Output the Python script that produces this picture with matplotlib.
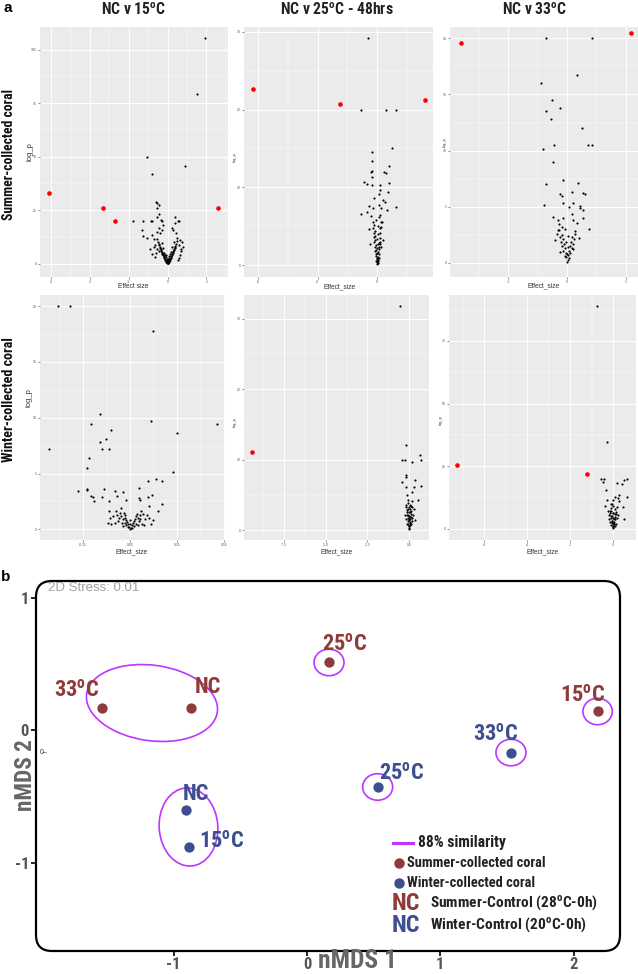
import os
import matplotlib
matplotlib.use("Agg")
import matplotlib.pyplot as plt
import matplotlib.font_manager as fm
from matplotlib.patches import Ellipse, FancyBboxPatch
from matplotlib.lines import Line2D

plt.rcParams["mathtext.default"] = "regular"
plt.rcParams["font.family"] = ["Liberation Sans", "DejaVu Sans"]

# ======================= DATA =======================
# ---- panel a: volcano plots (Effect size, -log p) ----
# Summer-collected coral, NC v 15C
s15_red_x = [-3.06, -1.66, -1.35, 1.30]
s15_red_y = [32.8, 26.1, 20.0, 26.1]
s15_pts = [(0.96, 105.5), (0.77, 79.2), (-0.52, 50.0), (0.46, 45.8), (-0.39, 42.0),
           (-0.90, 20.0), (-0.63, 20.0), (-0.43, 20.0), (-0.39, 20.0),
           (-0.30, 28.9), (-0.26, 28.4), (-0.23, 27.3), (-0.28, 25.8), (-0.21, 23.4), (-0.27, 21.6),
           (-0.18, 20.3), (-0.14, 20.0), (0.19, 21.9), (0.26, 20.0), (0.29, 20.0),
           (-0.67, 15.6), (-0.64, 13.0), (-0.35, 11.3), (-0.32, 8.9), (-0.27, 7.0), (-0.21, 5.9),
           (-0.45, 7.0), (-0.41, 4.7), (-0.28, 14.8), (-0.20, 14.1), (-0.15, 15.6), (0.15, 15.6),
           (0.21, 14.1), (0.25, 12.2), (0.32, 10.9), (0.29, 8.6), (0.36, 7.0), (0.26, 1.6),
           (0.19, 18.8), (0.12, 16.6), (-0.11, 18.0), (-0.23, 16.7), (-0.39, 13.3), (-0.52, 12.2),
           (-0.04, 1.0), (-0.06, 1.8), (-0.08, 2.6), (-0.10, 3.4), (-0.12, 4.3), (-0.14, 5.2),
           (-0.16, 6.1), (-0.18, 7.0), (-0.20, 8.0), (-0.22, 9.1), (-0.24, 10.2), (-0.26, 11.4),
           (-0.05, 1.4), (-0.07, 2.2), (-0.09, 3.0), (-0.11, 3.8), (-0.13, 4.7), (-0.15, 5.6),
           (-0.17, 6.5), (-0.19, 7.5), (-0.21, 8.5),
           (0.04, 1.0), (0.06, 1.8), (0.08, 2.6), (0.10, 3.5), (0.12, 4.4), (0.14, 5.3),
           (0.16, 6.3), (0.18, 7.3), (0.20, 8.3), (0.22, 9.4), (0.24, 10.5),
           (0.05, 1.4), (0.07, 2.2), (0.09, 3.0), (0.11, 3.9), (0.13, 4.8), (0.15, 5.8),
           (0.17, 6.8), (0.19, 7.8),
           (0.00, 0.1), (0.01, 0.3), (-0.01, 0.4), (0.02, 0.6), (-0.02, 0.7), (0.03, 0.8),
           (-0.03, 0.9), (0.00, 0.5), (0.01, 1.2), (-0.01, 1.5), (0.02, 2.0), (-0.02, 2.3),
           (0.03, 2.8), (-0.04, 3.1), (0.05, 3.6), (-0.06, 4.0), (0.00, 0.9), (0.02, 1.0),
           (-0.02, 1.1), (-0.08, 5.0), (0.09, 5.5), (-0.12, 7.5), (0.12, 8.0), (-0.15, 9.5),
           (0.16, 10.0), (0.07, 4.5), (-0.05, 3.8), (0.33, 4.0), (0.36, 6.0), (-0.32, 3.0),
           (-0.29, 5.0), (0.30, 2.5), (-0.35, 8.0), (0.38, 10.0), (0.40, 8.0)]

# Summer-collected coral, NC v 25C - 48hrs
s25_red_x = [-6.25, -1.88, 2.44]
s25_red_y = [22.6, 20.7, 21.2]
s25_pts = [(-0.44, 29.2), (-0.79, 20.0), (0.47, 20.0), (0.97, 20.0), (0.77, 15.0),
           (-0.24, 14.5), (-0.25, 13.4), (-0.33, 12.0), (-0.24, 12.1), (-0.28, 11.4),
           (0.62, 12.8), (0.37, 12.0), (0.45, 11.9), (-0.67, 10.7), (-0.49, 10.5),
           (-0.27, 10.3), (0.17, 10.3), (0.62, 10.6), (0.54, 9.4), (0.94, 7.5), (-0.79, 6.6),
           (0.15, 9.7), (0.10, 9.1), (-0.15, 8.6), (0.32, 8.4), (0.42, 8.1), (-0.42, 7.6),
           (-0.20, 7.3), (0.08, 7.7), (0.18, 7.3), (0.49, 7.1), (-0.50, 6.9), (-0.32, 6.3),
           (0.13, 6.4), (0.25, 5.6), (-0.20, 5.5), (-0.42, 4.6), (-0.17, 4.1), (0.22, 4.9),
           (0.30, 3.2), (-0.37, 2.8), (0.22, 2.4),
           (0.00, 0.2), (0.02, 0.5), (-0.02, 0.8), (0.04, 1.1), (-0.04, 1.4), (0.06, 1.7),
           (-0.06, 2.0), (0.08, 2.3), (-0.08, 2.6), (0.10, 2.9), (-0.10, 3.2), (0.12, 3.5),
           (-0.12, 3.8), (0.14, 4.1), (-0.13, 4.4), (0.15, 4.8), (-0.15, 5.2), (0.05, 0.3),
           (-0.05, 0.6), (0.07, 0.9), (-0.07, 1.2), (0.09, 1.5), (-0.09, 1.8), (0.11, 2.1),
           (-0.11, 2.4), (0.13, 2.7), (-0.14, 3.0), (0.00, 1.0), (0.01, 1.6), (-0.01, 2.2),
           (0.02, 2.8), (-0.03, 3.4), (0.04, 4.0), (0.00, 0.6), (-0.03, 0.4), (0.03, 0.7),
           (0.16, 3.0), (-0.17, 3.6), (0.18, 5.6), (-0.20, 4.8), (0.05, 5.0), (-0.04, 5.8),
           (0.08, 6.2)]

# Summer-collected coral, NC v 33C
s33_red_x = [-1.81, 1.09]
s33_red_y = [19.6, 20.5]
s33_pts = [(-0.36, 20.0), (0.43, 20.0), (0.18, 16.7), (-0.44, 16.0), (-0.25, 14.5),
           (-0.12, 13.8), (-0.36, 13.5), (-0.27, 12.8), (0.25, 12.0), (-0.22, 10.5),
           (0.36, 10.5), (0.43, 10.5), (-0.41, 10.1), (-0.24, 9.0), (-0.06, 7.4), (0.19, 7.1),
           (-0.36, 7.0), (0.09, 6.3), (-0.12, 6.1), (-0.08, 6.0), (0.28, 6.2), (0.31, 6.1),
           (-0.39, 5.2), (-0.06, 5.3), (0.10, 5.3), (0.22, 4.9), (0.27, 4.7), (0.23, 5.1),
           (-0.24, 4.1), (-0.15, 3.8), (0.37, 3.0), (0.27, 4.0), (-0.14, 3.5), (-0.09, 3.2),
           (0.09, 4.4), (0.11, 3.8), (0.17, 3.6), (-0.03, 3.0), (-0.17, 2.6), (0.14, 2.6),
           (0.20, 2.2), (-0.20, 2.0), (-0.06, 4.0), (0.04, 5.0), (-0.15, 2.9),
           (0.00, 0.1), (0.01, 0.3), (-0.01, 0.5), (0.02, 0.7), (-0.02, 0.9), (0.03, 1.1),
           (-0.03, 1.3), (0.05, 1.5), (-0.05, 1.7), (0.07, 1.9), (-0.07, 2.1), (0.09, 2.3),
           (-0.09, 2.5), (0.04, 0.4), (-0.04, 0.6), (0.06, 0.9), (-0.06, 1.1), (0.08, 1.3),
           (-0.08, 1.5), (0.10, 1.7), (-0.10, 1.9), (0.12, 2.1), (-0.12, 2.3), (0.00, 0.8),
           (0.01, 1.4), (-0.01, 1.9), (0.02, 2.4), (0.13, 2.8), (-0.13, 2.9), (0.11, 1.2),
           (-0.11, 1.0)]

# Winter-collected coral, NC v 15C
w15_pts = [(-0.385, 20.0), (-0.32, 20.0), (0.12, 17.8), (-0.16, 10.3), (0.11, 9.7),
           (-0.21, 9.4), (-0.10, 8.9), (-0.13, 8.1), (-0.16, 7.8), (-0.15, 7.2), (-0.11, 7.2),
           (-0.43, 7.2), (0.25, 8.6), (0.46, 9.4), (-0.22, 6.4), (-0.23, 5.5), (0.23, 5.1),
           (0.14, 4.5), (0.17, 4.3), (0.095, 4.3), (-0.28, 3.4), (-0.23, 3.6), (-0.23, 3.5),
           (-0.21, 3.0), (-0.20, 2.9), (-0.15, 2.9), (-0.14, 3.6), (-0.19, 2.5), (-0.11, 2.5),
           (-0.08, 3.4), (-0.07, 3.0), (-0.04, 3.35), (-0.02, 2.6), (0.046, 3.7), (0.046, 2.8),
           (0.055, 2.6), (0.097, 2.9), (0.115, 3.1), (0.103, 2.1), (0.17, 2.3), (0.146, 1.6),
           (0.11, 0.5), (0.076, 0.4), (-0.115, 1.6), (-0.106, 1.0), (-0.08, 0.6), (-0.07, 1.3),
           (-0.05, 1.9), (0.09, 1.3),
           (0.0, 0.05), (0.005, 0.15), (-0.005, 0.25), (0.01, 0.35), (-0.01, 0.45), (0.015, 0.55),
           (-0.015, 0.65), (0.02, 0.75), (-0.02, 0.85), (0.025, 0.95), (-0.025, 1.05), (0.03, 1.15),
           (-0.03, 1.25), (0.035, 1.35), (-0.035, 1.45), (0.04, 1.0), (-0.04, 0.9), (0.045, 0.7),
           (-0.045, 0.6), (0.05, 1.3), (-0.05, 1.2), (0.055, 0.9), (-0.055, 1.5), (0.0, 0.5),
           (0.0, 0.8), (0.01, 0.1), (-0.01, 0.2), (0.02, 0.3), (-0.02, 0.4), (0.03, 0.5),
           (-0.03, 0.6), (0.04, 0.4), (-0.04, 0.3), (0.06, 1.6), (-0.06, 1.0), (0.065, 0.5),
           (-0.065, 0.7), (0.07, 1.4), (-0.075, 1.6), (0.08, 0.9), (-0.09, 1.2), (0.10, 1.0),
           (-0.10, 0.5), (0.12, 0.8), (-0.12, 0.6)]

# Winter-collected coral, NC v 25C
w25_red_x = [-9.42]
w25_red_y = [11.1]
w25_pts = [(-0.52, 31.8), (-0.20, 12.1), (-0.45, 10.0), (-0.24, 10.0), (0.20, 9.7),
           (0.66, 10.6), (0.72, 10.0), (-0.18, 7.8), (-0.18, 7.5), (-0.42, 6.8), (-0.20, 6.1),
           (0.38, 7.1), (0.30, 6.1), (0.16, 5.4), (0.72, 6.2), (0.52, 4.2), (-0.14, 5.0),
           (-0.08, 4.3), (0.20, 4.1), (0.08, 3.6), (-0.18, 3.3), (0.32, 3.0), (-0.24, 2.1),
           (0.26, 2.1), (0.16, 1.7), (0.36, 1.4),
           (0.00, 0.1), (0.02, 0.3), (-0.02, 0.5), (0.04, 0.7), (-0.04, 0.9), (0.06, 1.1),
           (-0.06, 1.3), (0.08, 1.5), (-0.08, 1.7), (0.10, 1.9), (-0.10, 2.1), (0.12, 2.3),
           (-0.12, 2.5), (0.14, 2.7), (-0.14, 2.9), (0.00, 0.6), (0.03, 1.0), (-0.03, 1.4),
           (0.05, 1.8), (-0.05, 2.2), (0.07, 2.6), (-0.07, 3.0), (0.09, 3.4), (-0.09, 3.8),
           (0.00, 1.5), (0.01, 2.0), (-0.01, 2.5), (0.11, 0.8), (-0.11, 0.9), (0.15, 1.3),
           (-0.16, 1.6), (0.18, 3.2), (-0.18, 3.5), (0.04, 3.0), (-0.02, 3.3)]

# Winter-collected coral, NC v 33C
w33_red_x = [-7.24, -1.19]
w33_red_y = [25.7, 21.8]
w33_pts = [(-0.73, 89.0), (-0.29, 34.7), (-0.57, 20.1), (-0.40, 20.1), (-0.48, 18.8),
           (0.64, 20.1), (0.53, 19.4), (0.40, 17.8), (0.17, 18.2), (-0.33, 15.6), (0.64, 12.6),
           (0.28, 13.6), (0.22, 12.3), (0.09, 12.8), (0.28, 11.2), (-0.02, 11.5), (-0.28, 11.5),
           (-0.11, 9.9), (0.45, 8.9), (0.52, 4.0), (-0.37, 9.3), (-0.25, 7.3), (0.17, 8.6),
           (0.02, 6.2), (-0.17, 5.7), (0.25, 5.7),
           (0.00, 0.3), (0.02, 0.8), (-0.02, 1.3), (0.04, 1.8), (-0.04, 2.3), (0.06, 2.8),
           (-0.06, 3.3), (0.08, 3.8), (-0.08, 4.3), (0.10, 4.8), (-0.10, 5.3), (0.12, 5.8),
           (-0.12, 6.3), (0.14, 6.8), (-0.14, 7.3), (0.00, 1.0), (0.03, 2.0), (-0.03, 3.0),
           (0.05, 4.0), (-0.05, 5.0), (0.07, 6.0), (-0.07, 7.0), (0.09, 8.0), (-0.09, 8.5),
           (0.00, 2.5), (0.01, 4.5), (-0.01, 6.5), (0.16, 2.0), (-0.16, 2.6), (0.18, 4.2),
           (-0.20, 3.8), (0.11, 1.2), (-0.11, 1.6), (0.02, 9.0), (-0.04, 10.0)]

# ---- panel b: nMDS ----
summer_labels = ["33$^{o}$C", "NC", "25$^{o}$C", "15$^{o}$C"]
summer_x = [-1.54, -0.87, 0.165, 2.18]
summer_y = [0.17, 0.17, 0.51, 0.14]
winter_labels = ["NC", "15$^{o}$C", "25$^{o}$C", "33$^{o}$C"]
winter_x = [-0.91, -0.885, 0.53, 1.53]
winter_y = [-0.60, -0.88, -0.43, -0.17]
stress_text = "2D Stress: 0.01"
similarity_text = "88% similarity"

# ======================= STYLE =======================
W, H = 638, 974
RED = "#8E3B3B"
BLUE = "#3E4F8F"
PURPLE = "#BC36FF"


def find_condensed():
    prefs = ["liberationsansnarrow", "robotocondensed", "notosanscondensed", "notosans",
             "dejavusanscondensed", "opensanscondensed", "opensans", "lato", ""]
    found = []
    for f in fm.fontManager.ttflist:
        base = os.path.basename(f.fname).lower().replace("-", "").replace("_", "")
        if ("narrow" in base or "condensed" in base) and "semicondensed" not in base \
                and "extracondensed" not in base and "italic" not in base \
                and "oblique" not in base:
            w = f.weight if isinstance(f.weight, int) else (700 if "bold" in str(f.weight) else 400)
            if 650 <= w <= 750 or "bold" in base and "semibold" not in base and "extrabold" not in base:
                found.append(f.fname)
    for p in prefs:
        for fn in found:
            b = os.path.basename(fn).lower().replace("-", "").replace("_", "")
            if b.startswith(p):
                return fn
    return None


COND_FILE = find_condensed()
SCALE = 1.15 if COND_FILE else 1.0


def cprop(size):
    if COND_FILE:
        return fm.FontProperties(fname=COND_FILE, size=size * SCALE)
    return fm.FontProperties(family=["Liberation Sans", "DejaVu Sans"], weight="bold", size=size)


fig = plt.figure(figsize=(W / 100, H / 100), dpi=100)


def px_axes(x0, y0, x1, y1, **kw):
    return fig.add_axes([x0 / W, 1 - y1 / H, (x1 - x0) / W, (y1 - y0) / H], **kw)


def volcano(box, pts, red_x, red_y, xlim, ylim, xt, xtl, xmin, yt, ytl, ymin):
    ax = px_axes(*box)
    ax.set_facecolor("#EBEBEB")
    for s in ax.spines.values():
        s.set_visible(False)
    ax.set_xlim(xlim)
    ax.set_ylim(ylim)
    ax.set_xticks(xt)
    ax.set_xticklabels(xtl)
    ax.set_yticks(yt)
    ax.set_yticklabels(ytl)
    ax.set_xticks(xmin, minor=True)
    ax.set_yticks(ymin, minor=True)
    ax.grid(which="major", color="white", lw=0.7)
    ax.grid(which="minor", color="white", lw=0.35)
    ax.set_axisbelow(True)
    ax.tick_params(which="major", length=1.5, width=0.4, color="#333333",
                   labelsize=2.4, labelcolor="#555555", pad=0.8)
    ax.tick_params(which="minor", length=0)
    xs = [p[0] for p in pts]
    ys = [p[1] for p in pts]
    ax.scatter(xs, ys, s=2.4, c="black", linewidths=0, zorder=3)
    if red_x:
        ax.scatter(red_x, red_y, s=11, c="red", linewidths=0, zorder=4)
    return ax


volcano((40, 27, 228, 277), s15_pts, s15_red_x, s15_red_y, (-3.29, 1.56), (-6.25, 110.6),
        [-3, -2, -1, 0, 1], ["-3", "-2", "-1", "0", "1"], [-2.5, -1.5, -0.5, 0.5, 1.5],
        [0, 25, 50, 75, 100], ["0", "25", "50", "75", "100"], [12.5, 37.5, 62.5, 87.5])
volcano((244, 27, 433, 277), s25_pts, s25_red_x, s25_red_y, (-6.72, 2.82), (-1.5, 30.6),
        [-6, -3, 0], ["-6", "-3", "0"], [-4.5, -1.5, 1.5],
        [0, 10, 20, 30], ["0", "10", "20", "30"], [5, 15, 25])
volcano((450, 27, 638, 277), s33_pts, s33_red_x, s33_red_y, (-1.99, 1.21), (-1.25, 21.0),
        [-1, 0, 1], ["-1", "0", "1"], [-1.5, -0.5, 0.5],
        [0, 5, 10, 15, 20], ["0", "5", "10", "15", "20"], [2.5, 7.5, 12.5, 17.5])
volcano((40, 295, 225, 540), w15_pts, [], [], (-0.48, 0.505), (-0.96, 21.0),
        [-0.25, 0, 0.25, 0.5], ["-0.25", "0.00", "0.25", "0.50"], [-0.375, -0.125, 0.125, 0.375],
        [0, 5, 10, 15, 20], ["0", "5", "10", "15", "20"], [2.5, 7.5, 12.5, 17.5])
volcano((244, 295, 429, 540), w25_pts, w25_red_x, w25_red_y, (-9.9, 1.2), (-1.42, 33.4),
        [-7.5, -5, -2.5, 0], ["-7.5", "-5.0", "-2.5", "0.0"], [-8.75, -6.25, -3.75, -1.25],
        [0, 10, 20, 30], ["0", "10", "20", "30"], [5, 15, 25])
volcano((449, 295, 636, 540), w33_pts, w33_red_x, w33_red_y, (-7.63, 1.07), (-4.4, 93.3),
        [-6, -4, -2, 0], ["-6", "-4", "-2", "0"], [-7, -5, -3, -1],
        [0, 25, 50, 75], ["0", "25", "50", "75"], [12.5, 37.5, 62.5, 87.5])

# ---------------- panel b ----------------
axb = px_axes(36, 581, 620, 951)
axb.set_xlim(-2.033, 2.348)
axb.set_ylim(-1.668, 1.125)
for s in axb.spines.values():
    s.set_visible(False)
axb.patch.set_alpha(0)
axb.set_xticks([-1, 0, 1, 2])
axb.set_xticklabels(["-1", "0", "1", "2"])
axb.set_yticks([-1, 0, 1])
axb.set_yticklabels(["-1", "0", "1"])
axb.tick_params(direction="out", length=3.5, width=1.2, color="black", pad=1.0)
axb.tick_params(axis="y", pad=1.5)
tfp = cprop(10.3)
for lab in axb.get_xticklabels() + axb.get_yticklabels():
    lab.set_fontproperties(tfp)
    lab.set_color("#555555")

# similarity hulls
hulls = [((-1.163, 0.204), 0.99, 0.57, -8), ((-0.889, -0.732), 0.44, 0.59, 4),
         ((summer_x[2], summer_y[2]), 0.225, 0.20, 0), ((summer_x[3], summer_y[3]), 0.22, 0.20, 0),
         ((winter_x[3], winter_y[3]), 0.225, 0.20, 0), ((winter_x[2], winter_y[2]), 0.225, 0.20, 0)]
for c, w, h, a in hulls:
    axb.add_patch(Ellipse(c, w, h, angle=a, fill=False, ec=PURPLE, lw=1.2, zorder=2))

axb.scatter(summer_x, summer_y, s=55, c=RED, linewidths=0, zorder=3)
axb.scatter(winter_x, winter_y, s=55, c=BLUE, linewidths=0, zorder=3)

summer_off = [(-25, 17), (17, 21), (16, 18), (-15, 16)]
winter_off = [(10, 16), (33, 5), (24, 14), (-15, 18)]
lfp = cprop(14)
for lab, x, y, o in zip(summer_labels, summer_x, summer_y, summer_off):
    axb.annotate(lab, (x, y), xytext=o, textcoords="offset pixels", ha="center", va="center",
                 color=RED, fontproperties=lfp, zorder=4)
for lab, x, y, o in zip(winter_labels, winter_x, winter_y, winter_off):
    axb.annotate(lab, (x, y), xytext=o, textcoords="offset pixels", ha="center", va="center",
                 color=BLUE, fontproperties=lfp, zorder=4)

# ---------------- overlay (pixel coords) ----------------
ov = fig.add_axes([0, 0, 1, 1], zorder=10)
ov.set_xlim(0, W)
ov.set_ylim(H, 0)
ov.axis("off")
ov.patch.set_alpha(0)

ov.add_patch(FancyBboxPatch((36, 581), 584, 370, boxstyle="round,pad=0,rounding_size=16",
                            fill=False, ec="black", lw=1.6))

ov.text(8, 8, "a", ha="center", va="center", fontsize=11, fontweight="bold")
ov.text(6, 577, "b", ha="center", va="center", fontsize=11, fontweight="bold")

ov.text(133, 10, "NC v 15$^{o}$C", ha="center", va="center", color="#222222", fontproperties=cprop(9.8))
ov.text(337, 10, "NC v 25$^{o}$C - 48hrs", ha="center", va="center", color="#222222",
        fontproperties=cprop(9.8))
ov.text(534, 10, "NC v 33$^{o}$C", ha="center", va="center", color="#222222", fontproperties=cprop(9.8))

ov.text(9, 155, "Summer-collected coral", rotation=90, ha="center", va="center",
        color="#111111", fontproperties=cprop(8.5))
ov.text(9, 400, "Winter-collected coral", rotation=90, ha="center", va="center",
        color="#111111", fontproperties=cprop(8.8))

# axis titles of the volcano panels
for x, y, s, fs in [(30, 152, "log_p", 5.5), (235, 157, "log_p", 3), (445, 142, "log_p", 3),
                    (29, 398, "log_p", 5.5), (235, 422, "log_p", 3), (441, 420, "log_p", 3)]:
    ov.text(x, y, s, rotation=90, ha="center", va="center", fontsize=fs, color="#333333")
for x, y, s in [(133, 286, "Effect size"), (340, 287, "Effect_size"), (544, 286, "Effect_size"),
                (132, 552, "Effect_size"), (337, 552, "Effect_size"), (543, 552, "Effect_size")]:
    ov.text(x, y, s, ha="center", va="center", fontsize=4.8, color="#333333")

# nMDS axis titles and annotations
ov.text(357, 961, "nMDS 1", ha="center", va="center", color="#666666", fontproperties=cprop(16))
ov.text(25, 775, "nMDS 2", rotation=90, ha="center", va="center", color="#666666",
        fontproperties=cprop(14.5))
ov.text(48, 588, stress_text, ha="left", va="center", fontsize=9.5, color="#A0A0A0")
ov.text(40, 753, "0\u2013", ha="left", va="center", fontsize=5, color="#333333")

# legend
ov.add_line(Line2D([393, 413], [843, 843], color=PURPLE, lw=2.2))
ov.text(418, 843, similarity_text, ha="left", va="center", color="#222222", fontproperties=cprop(9.8))
ov.add_line(Line2D([399], [863], marker="o", ms=6.5, color=RED, lw=0))
ov.text(407, 863, "Summer-collected coral", ha="left", va="center", color="#222222",
        fontproperties=cprop(9))
ov.add_line(Line2D([399], [883], marker="o", ms=6.5, color=BLUE, lw=0))
ov.text(407, 883, "Winter-collected coral", ha="left", va="center", color="#222222",
        fontproperties=cprop(9))
ov.text(406, 904, "NC", ha="center", va="center", color=RED, fontproperties=cprop(15))
ov.text(430, 903, "Summer-Control (28$^{o}$C-0h)", ha="left", va="center", color="#222222",
        fontproperties=cprop(9.6))
ov.text(406, 926, "NC", ha="center", va="center", color=BLUE, fontproperties=cprop(15))
ov.text(430, 925, "Winter-Control (20$^{o}$C-0h)", ha="left", va="center", color="#222222",
        fontproperties=cprop(9.6))

fig.savefig("out.png", dpi=100)
